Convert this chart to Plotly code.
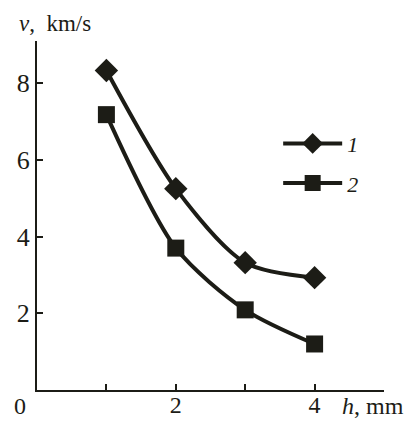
import plotly.graph_objects as go

h_mm = [1, 2, 3, 4]
v1 = [8.33, 5.25, 3.32, 2.93]
v2 = [7.18, 3.70, 2.09, 1.20]
names = ["1", "2"]
x_tickvals = [1, 2, 3, 4, 5]
x_ticktext = ["", "2", "", "4", ""]
y_tickvals = [2, 4, 6, 8]

ink = "#1c1c16"
serif = "Liberation Serif, Times New Roman, serif"

fig = go.Figure()
fig.add_trace(go.Scatter(
    x=h_mm, y=v1, mode="lines+markers", name="<i>" + names[0] + "</i>",
    line=dict(color=ink, width=4, shape="spline", smoothing=0.8),
    marker=dict(symbol="diamond", size=18, color=ink),
    legendgroup="a"))
fig.add_trace(go.Scatter(
    x=h_mm, y=v2, mode="lines+markers", name="<i>" + names[1] + "</i>",
    line=dict(color=ink, width=4, shape="spline", smoothing=0.8),
    marker=dict(symbol="square", size=17, color=ink),
    legendgroup="b"))

# The page body has an 8px default margin, so the figure is sized to fit the window.
fig.update_layout(
    width=409, height=414,
    margin=dict(l=29, r=33, t=33, b=32),
    paper_bgcolor="white", plot_bgcolor="white",
    font=dict(family=serif, color=ink, size=20),
    showlegend=True,
    legend=dict(x=0.695, y=0.766, xanchor="left", yanchor="top",
                bgcolor="rgba(0,0,0,0)", font=dict(size=22, family=serif),
                tracegroupgap=8, traceorder="grouped", itemwidth=59),
    xaxis=dict(range=[0, 5], showgrid=False, zeroline=False, automargin=False,
               showline=True, linecolor=ink, linewidth=2,
               ticks="inside", ticklen=6, tickwidth=2, tickcolor=ink,
               tickvals=x_tickvals, ticktext=x_ticktext, ticklabelstandoff=-8,
               tickfont=dict(size=24, family=serif, color=ink)),
    yaxis=dict(range=[0, 9.1], showgrid=False, zeroline=False, automargin=False,
               showline=True, linecolor=ink, linewidth=2,
               ticks="inside", ticklen=6, tickwidth=2, tickcolor=ink,
               tickvals=y_tickvals,
               tickfont=dict(size=26, family=serif, color=ink)),
    annotations=[
        dict(text="<i>v</i>,  km/s", xref="paper", yref="paper",
             x=-0.058, y=1.01, xanchor="left", yanchor="bottom",
             showarrow=False, font=dict(size=23, family=serif, color=ink)),
        dict(text="<i>h</i>, mm", xref="paper", yref="paper",
             x=0.873, y=-0.003, xanchor="left", yanchor="top",
             showarrow=False, font=dict(size=24, family=serif, color=ink)),
        dict(text="0", xref="paper", yref="paper",
             x=-0.049, y=-0.003, xanchor="center", yanchor="top",
             showarrow=False, font=dict(size=24, family=serif, color=ink)),
    ],
)

fig.write_html("out.html")
